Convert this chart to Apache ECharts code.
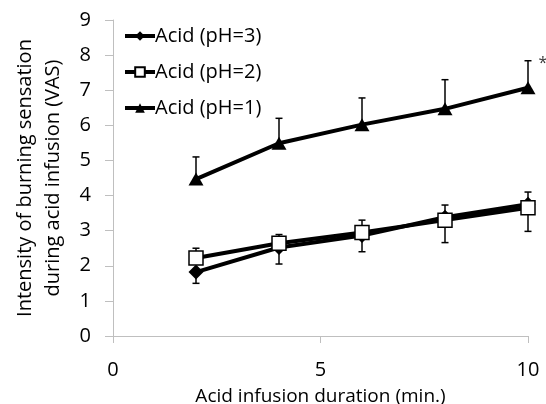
<!DOCTYPE html>
<html><head><meta charset="utf-8">
<script src="https://cdn.jsdelivr.net/npm/echarts@6/dist/echarts.min.js"></script>
<style>html,body{margin:0;padding:0;background:#fff}#c{width:546px;height:404px}</style>
</head><body><div id="c"></div>
<script>
const xValues = [2, 4, 6, 8, 10];
const ph3 = [1.82, 2.52, 2.86, 3.38, 3.75];
const ph3Err = [1.5, 2.05, 2.4, 3.73, 4.1];
const ph2 = [2.22, 2.64, 2.95, 3.3, 3.65];
const ph2Err = [2.5, 2.89, 3.3, 2.66, 2.98];
const ph1 = [4.47, 5.49, 6.02, 6.47, 7.07];
const ph1Err = [5.1, 6.2, 6.78, 7.3, 7.84];
const names = ['Acid (pH=3)', 'Acid (pH=2)', 'Acid (pH=1)'];
const xTicks = [0, 5, 10];
const starMark = [[10, 7.84]];

const FONT = 'Open Sans';
const pts = v => xValues.map((x, i) => [x, v[i]]);
const errData = (v, e) => xValues.map((x, i) => [x, v[i], e[i]]);

function renderErr(params, api) {
  const x = api.value(0), v = api.value(1), e = api.value(2);
  const p1 = api.coord([x, v]), p2 = api.coord([x, e]);
  const st = { stroke: '#000', lineWidth: 1.5 };
  return { type: 'group', children: [
    { type: 'line', shape: { x1: p1[0], y1: p1[1], x2: p2[0], y2: p2[1] }, style: st },
    { type: 'line', shape: { x1: p2[0] - 3.5, y1: p2[1], x2: p2[0] + 3.5, y2: p2[1] }, style: st }
  ]};
}
function errSeries(v, e) {
  return { type: 'custom', renderItem: renderErr, data: errData(v, e), z: 1, silent: true,
    encode: { x: 0, y: [1, 2] } };
}
function lineSeries(name, v, symbol, size, fill) {
  return { type: 'line', name, data: pts(v), symbol, symbolSize: size, z: 3,
    lineStyle: { color: '#000', width: 4 },
    itemStyle: { color: fill, borderColor: '#000', borderWidth: fill === '#fff' ? 1.5 : 0 } };
}

const chart = echarts.init(document.getElementById('c'));
chart.setOption({
  animation: false,
  grid: { left: 113, right: 18, top: 20, bottom: 68, containLabel: false, outerBoundsMode: 'none' },
  legend: {
    data: names, orient: 'vertical', left: 118, top: 21, itemWidth: 30, itemHeight: 12, itemGap: 16,
    lineStyle: { width: 4 },
    textStyle: { fontFamily: FONT, fontSize: 20, color: '#000', padding: [0, 0, 0, -5] }
  },
  xAxis: {
    type: 'value', min: 0, max: 10, interval: 5,
    name: 'Acid infusion duration (min.)', nameLocation: 'middle', nameGap: 51,
    nameTextStyle: { fontFamily: FONT, fontSize: 19, color: '#000' },
    axisLine: { lineStyle: { color: '#bfbfbf' } },
    axisTick: { show: true, length: 7, lineStyle: { color: '#bfbfbf' } },
    axisLabel: { fontFamily: FONT, fontSize: 20, color: '#000', margin: 24,
      formatter: v => xTicks.includes(v) ? String(v) : '' },
    splitLine: { show: false }
  },
  yAxis: {
    type: 'value', min: 0, max: 9, interval: 1,
    name: 'Intensity of burning sensation\nduring acid infusion (VAS)', nameLocation: 'middle', nameGap: 46,
    nameTextStyle: { fontFamily: FONT, fontSize: 20, color: '#000', lineHeight: 28 },
    axisLine: { show: true, lineStyle: { color: '#bfbfbf' } },
    axisTick: { show: true, length: 8, lineStyle: { color: '#bfbfbf' } },
    axisLabel: { fontFamily: FONT, fontSize: 20, color: '#000', margin: 22 },
    splitLine: { show: false }
  },
  series: [
    errSeries(ph3, ph3Err), errSeries(ph2, ph2Err), errSeries(ph1, ph1Err),
    lineSeries(names[0], ph3, 'diamond', 15, '#000'),
    lineSeries(names[1], ph2, 'rect', 14, '#fff'),
    lineSeries(names[2], ph1, 'triangle', [15, 13], '#000'),
    { type: 'scatter', data: starMark, symbolSize: 1, itemStyle: { color: 'rgba(0,0,0,0)' }, z: 5, silent: true,
      clip: false,
      label: { show: true, position: 'right', formatter: '*', color: '#000', fontFamily: FONT, fontSize: 16,
        offset: [5, 3] } }
  ]
});
</script></body></html>
